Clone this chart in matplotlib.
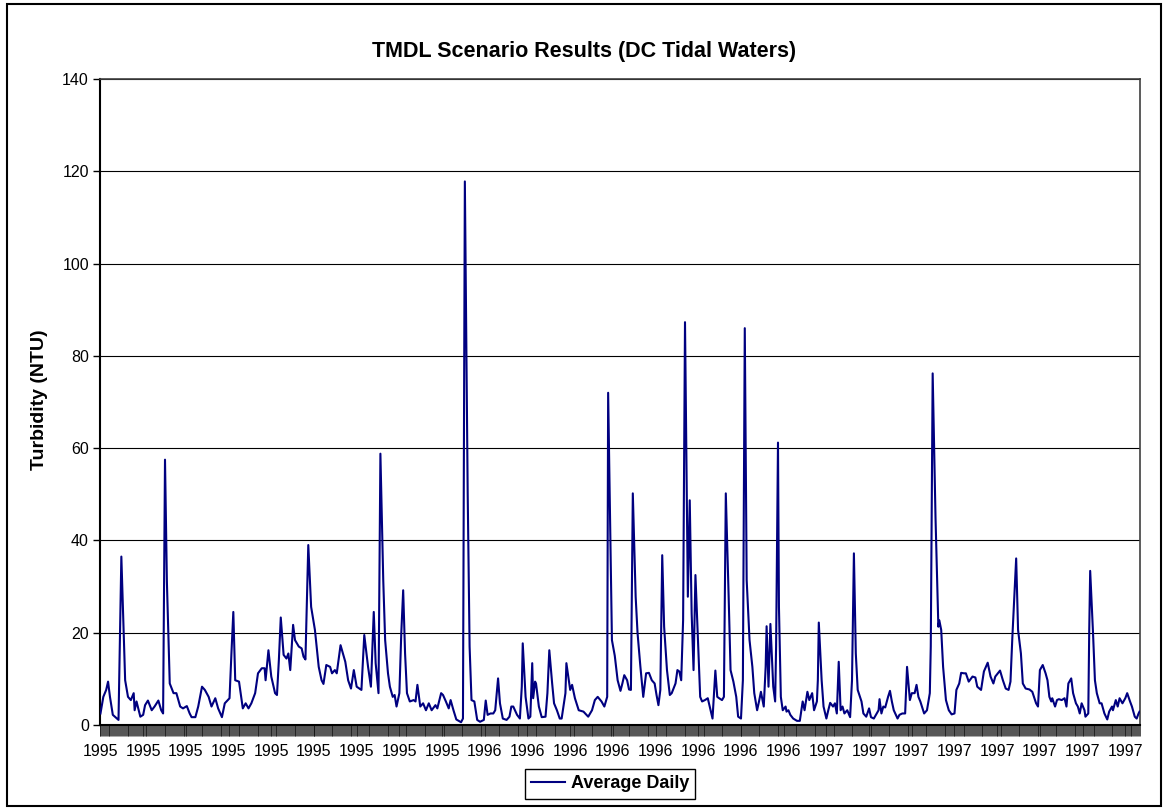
import numpy as np
import matplotlib
matplotlib.use('Agg')
import matplotlib.pyplot as plt
import matplotlib.dates as mdates
from matplotlib.ticker import FixedLocator
from matplotlib.patches import Rectangle

plt.rcParams['font.family'] = ['Liberation Sans', 'DejaVu Sans']

# Daily turbidity: day offset from 1995-01-01 and NTU value
start = np.datetime64('1995-01-01')
day = [0, 3, 6, 8, 10, 13, 19, 22, 26, 29, 32, 35, 36, 38, 42, 45, 47, 50, 54, 57,
       61, 64, 66, 68, 70, 73, 77, 80, 84, 87, 91, 94, 96, 100, 103, 107, 110, 114, 117, 121,
       124, 128, 131, 136, 138, 140, 142, 146, 150, 153, 156, 159, 163, 166, 170, 173, 174, 177, 180, 184,
       186, 188, 190, 193, 196, 198, 200, 203, 205, 209, 212, 214, 216, 219, 222, 226, 230, 233, 235, 238,
       242, 244, 247, 249, 253, 258, 261, 264, 267, 270, 275, 278, 282, 285, 288, 290, 293, 295, 298, 300,
       303, 305, 308, 310, 312, 315, 317, 319, 321, 323, 326, 330, 332, 334, 337, 340, 343, 346, 349, 353,
       355, 359, 361, 364, 367, 369, 372, 375, 380, 382, 384, 387, 389, 391, 394, 397, 400, 404, 406, 408,
       411, 414, 416, 419, 421, 424, 428, 431, 433, 435, 439, 442, 444, 445, 448, 451, 453, 455, 456, 458,
       459, 462, 465, 469, 471, 473, 476, 478, 481, 484, 486, 490, 491, 495, 497, 500, 504, 509, 514, 518,
       521, 524, 528, 531, 534, 535, 539, 542, 545, 548, 550, 552, 555, 557, 559, 561, 564, 566, 569, 572,
       575, 578, 581, 584, 586, 588, 590, 592, 594, 597, 600, 602, 606, 608, 610, 612, 614, 616, 619, 621,
       623, 625, 627, 630, 632, 634, 637, 640, 643, 645, 648, 650, 652, 655, 657, 659, 662, 664, 667, 670,
       672, 675, 677, 679, 681, 684, 687, 689, 692, 694, 696, 699, 701, 702, 704, 706, 709, 711, 712, 714,
       715, 717, 719, 722, 723, 725, 727, 730, 734, 737, 740, 742, 745, 747, 750, 752, 755, 756, 757, 760,
       762, 765, 767, 769, 772, 774, 776, 778, 780, 782, 784, 787, 790, 792, 794, 796, 798, 802, 804, 807,
       810, 812, 815, 818, 820, 821, 823, 825, 827, 830, 832, 834, 836, 840, 842, 845, 848, 850, 853, 855,
       858, 860, 862, 864, 868, 871, 874, 875, 877, 880, 883, 884, 886, 888, 891, 894, 897, 900, 902, 905,
       907, 910, 912, 915, 919, 922, 924, 928, 931, 935, 938, 941, 943, 948, 951, 954, 957, 959, 961, 965,
       967, 970, 972, 975, 979, 982, 986, 988, 990, 993, 996, 998, 1000, 1002, 1003, 1006, 1008, 1010, 1013, 1016,
       1018, 1020, 1023, 1025, 1028, 1030, 1032, 1034, 1037, 1038, 1041, 1042, 1043, 1046, 1048, 1050, 1053, 1055, 1058, 1061,
       1063, 1066, 1067, 1070, 1072, 1074, 1077, 1080, 1082, 1085, 1087, 1090, 1092, 1094, 1095]
ntu = [2.5, 6.1, 7.6, 9.4, 6.1, 2.2, 1.1, 36.5, 9.7, 6.1, 5.4, 6.9, 3.2, 5.1, 1.8, 2.2, 4.3, 5.3, 3.2, 4.0,
       5.3, 3.2, 2.5, 57.5, 31, 9, 6.9, 6.9, 4, 3.6, 4.1, 2.5, 1.7, 1.7, 4, 8.3, 7.6, 6.1, 4, 5.8,
       3.6, 1.7, 4.7, 5.8, 15.5, 24.5, 9.7, 9.4, 3.6, 4.7, 3.6, 4.7, 6.9, 11.2, 12.3, 12.3, 9.7, 16.2, 10.5, 6.9,
       6.5, 14.1, 23.3, 15.2, 14.4, 15.5, 11.9, 21.7, 18.4, 17, 16.6, 14.8, 14.2, 39, 25.6, 20.6, 12.6, 9.7, 8.9, 13,
       12.6, 11.2, 11.9, 11.2, 17.3, 13.7, 9.7, 7.9, 11.9, 8.3, 7.6, 19.5, 12.6, 8.3, 24.5, 13.4, 6.9, 58.8, 31.4, 18.4,
       11.2, 8.3, 6.1, 6.5, 4.0, 6.9, 19.9, 29.2, 15.5, 6.9, 5.1, 5.4, 5.1, 8.7, 4.0, 4.7, 3.2, 4.7, 3.2, 4.3,
       3.6, 6.9, 6.5, 5.1, 3.6, 5.4, 3.2, 1.2, 0.6, 1.4, 117.8, 50, 17, 5.4, 5.1, 1.1, 0.7, 1.1, 5.3, 2.2,
       2.5, 2.5, 3.2, 10.1, 4.7, 1.4, 1.1, 1.8, 4, 4, 2.2, 1.4, 8.3, 17.7, 6.1, 1.4, 1.8, 13.4, 5.8, 9.4,
       9, 4, 1.7, 1.8, 6.9, 16.2, 9, 4.7, 3.2, 1.4, 1.4, 6.9, 13.4, 7.6, 8.7, 5.8, 3.2, 2.9, 1.8, 3.2,
       5.4, 6.1, 5.1, 4, 6.1, 72, 18.4, 15, 9.7, 7.4, 9, 10.8, 9.7, 7.7, 7.6, 50.2, 27.8, 19.9, 12.6, 6.1,
       11.2, 11.3, 9.7, 9, 6.5, 4.3, 7.6, 36.8, 21.3, 11.9, 6.5, 6.9, 9, 11.9, 11.6, 9.7, 22.7, 87.3, 27.8, 48.7,
       24.2, 11.9, 32.5, 17, 6.1, 5.1, 5.4, 5.8, 3.2, 1.4, 11.8, 6.1, 5.8, 5.4, 6.1, 50.2, 27.8, 11.9, 9.4, 6.1,
       1.8, 1.4, 9.7, 86, 31.4, 18.4, 12.6, 6.9, 3.2, 5.1, 7.2, 4, 12.6, 21.4, 8.3, 21.9, 8.3, 5.1, 17, 61.2,
       25.6, 6.1, 3.2, 4, 2.9, 3.2, 2.2, 1.4, 0.9, 0.9, 5.1, 3.2, 7.2, 5.4, 6.9, 3.2, 5.1, 9.7, 22.2, 9.7,
       4, 1.4, 3.2, 4.8, 4, 4.7, 2.5, 13.7, 3.2, 4, 2.5, 3.2, 1.7, 9.7, 37.2, 15.5, 7.6, 5.1, 2.5, 1.8,
       3.6, 1.7, 1.4, 2.5, 3.2, 5.6, 2.5, 4, 3.8, 6.1, 7.4, 5.1, 3.2, 1.4, 2.2, 2.5, 2.5, 12.6, 5.4, 6.9,
       6.9, 8.7, 6.1, 5.1, 2.5, 3.2, 6.9, 17, 76.2, 45, 21.3, 22.7, 20.6, 12.6, 5.4, 3.2, 2.3, 2.5, 7.6, 9,
       11.3, 11.2, 11.2, 9.4, 10.5, 10.3, 8.3, 7.6, 11.6, 13.5, 10.5, 9, 10.5, 11.8, 9.7, 7.9, 7.6, 9.4, 19.1, 36.1,
       20.6, 15.5, 9, 7.9, 7.7, 7.2, 4.7, 4, 11.9, 13, 11.2, 9.7, 6.1, 5.1, 5.8, 4, 5.4, 5.6, 5.4, 5.8,
       4, 9, 10.1, 6.9, 4.7, 4, 2.5, 4.7, 3.2, 1.8, 2.5, 20.6, 33.4, 19.9, 9.7, 6.9, 4.7, 4.7, 2.5, 1.2,
       2.9, 4, 3.2, 5.4, 4, 5.8, 4.7, 5.8, 6.9, 5.1, 4, 1.8, 1.4, 2.5, 2.9]
n_days = 1096
label_every = 45
yticks = [0, 20, 40, 60, 80, 100, 120, 140]

dates = start + np.array(day).astype('timedelta64[D]')
x0 = mdates.date2num(start)

fig = plt.figure(figsize=(11.68, 8.11), dpi=100)
ax = fig.add_axes([100 / 1168, 1 - 725 / 811, 1040 / 1168, 646 / 811])

ax.plot(dates, ntu, color='#000080', lw=1.5, label='Average Daily', zorder=3)

ax.set_xlim(x0 - 0.5, x0 + n_days - 0.5)
ax.set_ylim(0, 140)
ax.set_yticks(yticks)
ax.yaxis.grid(True, color='black', lw=0.8)
ax.set_axisbelow(True)

# one label every 45 days, one tick mark per day (the dense band under the axis)
ax.xaxis.set_major_locator(FixedLocator(x0 + np.arange(0, n_days, label_every)))
ax.xaxis.set_major_formatter(mdates.DateFormatter('%Y'))
ax.xaxis.set_minor_locator(FixedLocator(x0 + np.arange(n_days + 1) - 0.5))
ax.tick_params(axis='x', which='minor', direction='out', length=8, width=0.5, color='#101010')
ax.tick_params(axis='x', which='major', direction='out', length=8, width=0.5, color='#101010',
               labelsize=11.5, pad=6)
ax.tick_params(axis='y', direction='out', length=5, width=1, labelsize=11.5, pad=3)

for side in ['top', 'right']:
    ax.spines[side].set_color('#404040')
    ax.spines[side].set_linewidth(1.2)
for side in ['left', 'bottom']:
    ax.spines[side].set_color('black')
    ax.spines[side].set_linewidth(1.5)

fig.text(584 / 1168, 1 - 51 / 811, 'TMDL Scenario Results (DC Tidal Waters)',
         ha='center', va='center', fontsize=15.5, fontweight='bold')
fig.text(40 / 1168, 1 - 400 / 811, 'Turbidity (NTU)', rotation=90,
         ha='center', va='center', fontsize=14, fontweight='bold')

leg = fig.legend(loc='center', bbox_to_anchor=(610 / 1168, 1 - 784 / 811),
                 frameon=True, fancybox=False, edgecolor='black', framealpha=1,
                 prop={'size': 13, 'weight': 'bold'}, handlelength=1.9,
                 borderpad=0.35, handletextpad=0.3, borderaxespad=0)
leg.get_frame().set_linewidth(1.0)

fig.patches.append(Rectangle((7 / 1168, 5 / 811), 1154 / 1168, 802 / 811,
                             transform=fig.transFigure, fill=False, ec='black', lw=1.5))

fig.savefig('out.png', dpi=100)
